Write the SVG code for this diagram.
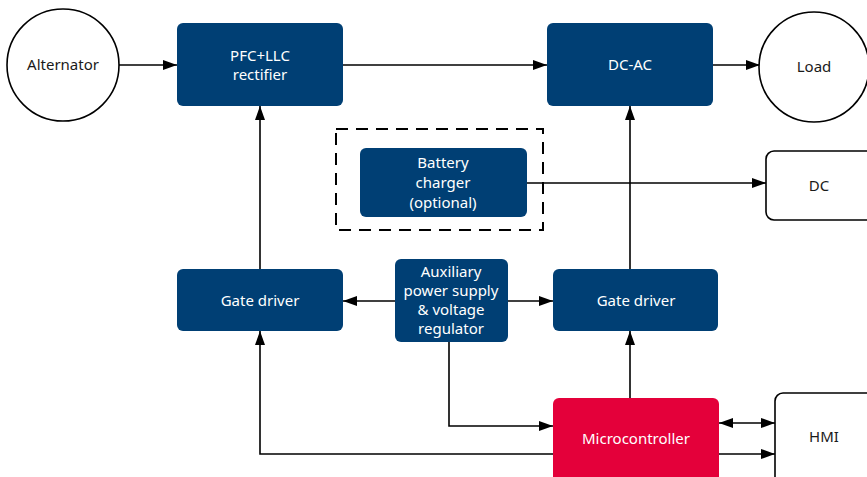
<svg xmlns="http://www.w3.org/2000/svg" width="867" height="477" viewBox="0 0 867 477">
<style>
.b{fill:#003f74}
.r{fill:#e4003a}
.w{fill:#fff;stroke:#000;stroke-width:1.6}
.t{font-family:"Noto Sans","Open Sans",sans-serif;font-size:15px;text-anchor:middle}
.tw{fill:#fff}
.tk{fill:#1a1a1a}
.c{fill:none;stroke:#000;stroke-width:1.6}
</style>
<defs>
<marker id="a" viewBox="0 0 14 10" refX="14" refY="5" markerWidth="14" markerHeight="10" markerUnits="userSpaceOnUse" orient="auto-start-reverse">
<path d="M0,0L14,5L0,10Z" fill="#000"/>
</marker>
</defs>
<rect width="867" height="477" fill="#fff"/>
<g id="connectors">
<line class="c" x1="118" y1="65" x2="177" y2="65" marker-end="url(#a)"/>
<line class="c" x1="343" y1="65" x2="547" y2="65" marker-end="url(#a)"/>
<line class="c" x1="713" y1="65" x2="760" y2="65" marker-end="url(#a)"/>
<line class="c" x1="527" y1="183" x2="766" y2="183" marker-end="url(#a)"/>
<line class="c" x1="630" y1="269" x2="630" y2="106" marker-end="url(#a)"/>
<line class="c" x1="260" y1="269" x2="260" y2="106" marker-end="url(#a)"/>
<line class="c" x1="395" y1="301" x2="343" y2="301" marker-end="url(#a)"/>
<line class="c" x1="508" y1="301" x2="553" y2="301" marker-end="url(#a)"/>
<polyline class="c" points="449,342 449,426 553,426" marker-end="url(#a)"/>
<polyline class="c" points="553,454 260,454 260,331" marker-end="url(#a)"/>
<line class="c" x1="630" y1="398" x2="630" y2="331" marker-end="url(#a)"/>
<line class="c" x1="719" y1="423" x2="775" y2="423" marker-start="url(#a)" marker-end="url(#a)"/>
<line class="c" x1="719" y1="454" x2="775" y2="454" marker-end="url(#a)"/>
</g>
<g id="alternator"><circle class="w" cx="63" cy="65" r="56"/><text class="t tk" x="63" y="70">Alternator</text></g>
<g id="pfc"><rect class="b" x="177" y="23" width="166" height="83" rx="6"/><text class="t tw" x="260" y="61">PFC+LLC</text><text class="t tw" x="260" y="80">rectifier</text></g>
<g id="dcac"><rect class="b" x="547" y="23" width="166" height="83" rx="6"/><text class="t tw" x="630" y="70">DC-AC</text></g>
<g id="load"><circle class="w" cx="814" cy="67" r="55"/><text class="t tk" x="814" y="72">Load</text></g>
<g id="battery-group"><rect x="336" y="129" width="207" height="101" fill="none" stroke="#000" stroke-width="2" stroke-dasharray="12,8"/></g>
<g id="battery"><rect class="b" x="360" y="148" width="167" height="69" rx="6"/><text class="t tw" x="443" y="168">Battery</text><text class="t tw" x="443" y="188">charger</text><text class="t tw" x="443" y="208">(optional)</text></g>
<g id="dc"><rect class="w" x="766" y="151" width="120" height="69" rx="8"/><text class="t tk" x="819" y="191">DC</text></g>
<g id="gate-left"><rect class="b" x="177" y="269" width="166" height="62" rx="6"/><text class="t tw" x="260" y="306">Gate driver</text></g>
<g id="aux"><rect class="b" x="395" y="259" width="113" height="83" rx="6"/><text class="t tw" x="451" y="277">Auxiliary</text><text class="t tw" x="451" y="296">power supply</text><text class="t tw" x="451" y="315">&amp; voltage</text><text class="t tw" x="451" y="334">regulator</text></g>
<g id="gate-right"><rect class="b" x="553" y="269" width="165" height="62" rx="6"/><text class="t tw" x="636" y="306">Gate driver</text></g>
<g id="mcu"><rect class="r" x="553" y="398" width="166" height="90" rx="6"/><text class="t tw" x="636" y="444">Microcontroller</text></g>
<g id="hmi"><rect class="w" x="775" y="393" width="110" height="95" rx="8"/><text class="t tk" x="824" y="442">HMI</text></g>
</svg>
